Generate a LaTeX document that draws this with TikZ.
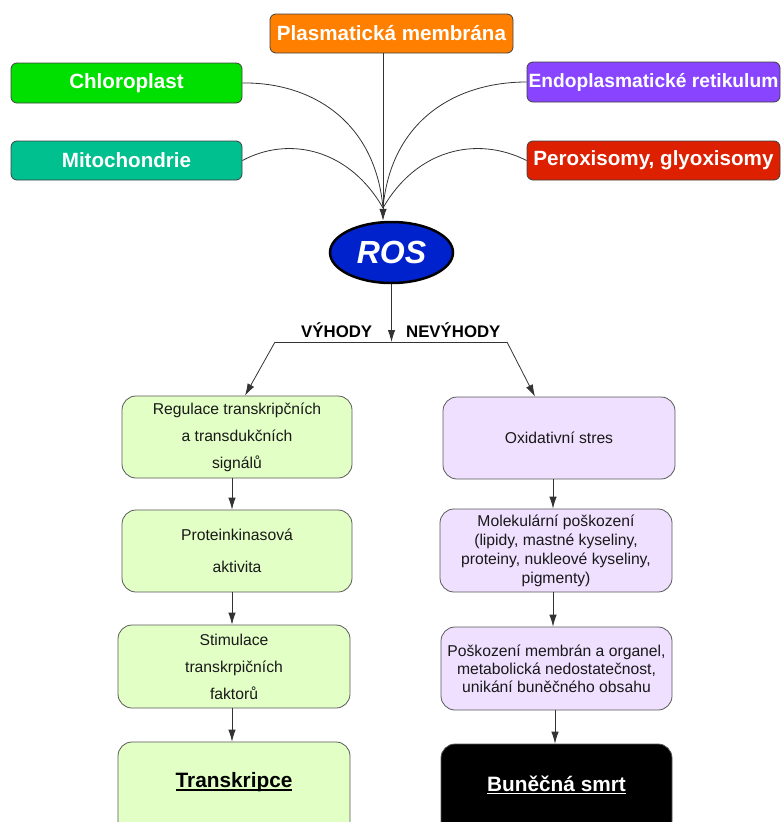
\documentclass[tikz,border=0pt]{standalone}
\usepackage{fontspec}
\setmainfont{Liberation Sans}
\usetikzlibrary{arrows.meta,shapes.geometric}
\newcommand\myul[1]{\setbox0\hbox{#1}\rlap{\raisebox{-3.2pt}{\rule{\wd0}{1.6pt}}}\box0}
\definecolor{cPlasma}{HTML}{FF8000}
\definecolor{cChloro}{HTML}{00E000}
\definecolor{cMito}{HTML}{00C090}
\definecolor{cER}{HTML}{8844FF}
\definecolor{cPerox}{HTML}{DD2000}
\definecolor{cROS}{HTML}{0022CC}
\definecolor{cGreen}{HTML}{E2FFC6}
\definecolor{cLav}{HTML}{F0E0FF}
\definecolor{cLine}{HTML}{333333}
\begin{document}
\begin{tikzpicture}[x=1pt,y=-1pt,
  topbox/.style={draw=black!75, rounded corners=6pt, line width=0.8pt, text=white,
    font=\bfseries\fontsize{20.6}{24}\selectfont, inner sep=0pt, minimum height=39pt},
  lowbox/.style={draw=black!65, rounded corners=14pt, line width=0.8pt, inner sep=0pt,
    align=center, text=black!90, font=\fontsize{15.7}{27}\selectfont},
  conn/.style={draw=cLine, line width=0.8pt},
  arr/.style={conn, -{Latex[length=12pt,width=7.5pt]}},
  lbl/.style={font=\bfseries\fontsize{16.8}{20}\selectfont, anchor=base, inner sep=0pt},
  bigtxt/.style={font=\bfseries\fontsize{20.8}{24}\selectfont, inner sep=0pt}
]
\useasboundingbox (0,0) rectangle (782,822);

% top boxes
\node[topbox, fill=cPlasma, minimum width=243pt] (plasma) at (391.5,33.5) {Plasmatická membrána};
\node[topbox, fill=cChloro, minimum width=231pt, minimum height=40pt] (chloro) at (126.5,83) {Chloroplast};
\node[topbox, fill=cMito, minimum width=231pt] (mito) at (126.5,160.5) {Mitochondrie};
\node[topbox, fill=cER, minimum width=253pt, minimum height=40pt,
  font=\bfseries\fontsize{19.2}{22}\selectfont] (er) at (653.5,82) {Endoplasmatické retikulum};
\node[topbox, fill=cPerox, minimum width=253pt] (perox) at (653.5,160.5) {Peroxisomy, glyoxisomy};

% ROS
\node[ellipse, draw=black, line width=2.5pt, fill=cROS, minimum width=123pt, minimum height=61pt,
  inner sep=0pt, text=white, font=\bfseries\itshape\fontsize{32}{36}\selectfont] (ros) at (391.5,252.5) {ROS};

% converging curves
\coordinate (conv) at (383,208);
\draw[conn] (chloro.east) .. controls (310,82) and (375,120) .. (conv);
\draw[conn] (mito.east) .. controls (290,135) and (350,150) .. (conv);
\draw[conn] (er.west) .. controls (456,82) and (391,120) .. (conv);
\draw[conn] (perox.west) .. controls (476,135) and (416,150) .. (conv);
\draw[arr] ([xshift=-8.5pt]plasma.south) -- ([xshift=-8.5pt]ros.north);

% split
\coordinate (split) at (391.5,342);
\coordinate (lk) at (275,342);
\coordinate (rk) at (507,342);
\draw[arr] (ros.south) -- (split);
\draw[conn] (lk) -- (rk);
\node[lbl] (vyh) at (336.7,337) {VÝHODY};
\node[lbl] (nevyh) at (453.3,337) {NEVÝHODY};

% left column
\node[lowbox, fill=cGreen, minimum width=230pt, minimum height=82pt] (L1) at (237,437)
  {Regulace transkripčních\\a transdukčních\\signálů};
\node[lowbox, fill=cGreen, minimum width=230pt, minimum height=82pt,
  font=\fontsize{15.7}{32}\selectfont] (L2) at (237,551) {Proteinkinasová\\aktivita};
\node[lowbox, fill=cGreen, minimum width=232pt, minimum height=83pt] (L3) at (234,666.5)
  {Stimulace\\transkrpičních\\faktorů};
\node[lowbox, fill=cGreen, minimum width=232pt, minimum height=93pt] (L4) at (234,788.5) {};
\node[bigtxt, text=black] (L4t) at (234,782) {\myul{Transkripce}};

% right column
\node[lowbox, fill=cLav, minimum width=232pt, minimum height=82pt] (R1) at (559,438) {Oxidativní stres};
\node[lowbox, fill=cLav, minimum width=232pt, minimum height=83pt,
  font=\fontsize{15.7}{19}\selectfont] (R2) at (556,550.5)
  {Molekulární poškození\\(lipidy, mastné kyseliny,\\proteiny, nukleové kyseliny,\\pigmenty)};
\node[lowbox, fill=cLav, minimum width=231pt, minimum height=83pt,
  font=\fontsize{15.7}{18}\selectfont] (R3) at (556.5,668.5)
  {Poškození membrán a organel,\\metabolická nedostatečnost,\\unikání buněčného obsahu};
\node[lowbox, fill=black, minimum width=231pt, minimum height=91pt] (R4) at (556.5,789.5) {};
\node[bigtxt, text=white] (R4t) at (556.5,785) {\myul{Buněčná smrt}};

% arrows
\draw[arr] (lk) -- ([xshift=8pt]L1.north);
\draw[arr] (rk) -- ([xshift=-24pt]R1.north);
\draw[arr] ([xshift=-5pt]L1.south) -- ([xshift=-5pt]L2.north);
\draw[arr] ([xshift=-5pt]L2.south) -- ([xshift=-2pt]L3.north);
\draw[arr] ([xshift=-2pt]L3.south) -- ([xshift=-2pt]L4.north);
\draw[arr] ([xshift=-6pt]R1.south) -- ([xshift=-3pt]R2.north);
\draw[arr] ([xshift=-3pt]R2.south) -- ([xshift=-3.5pt]R3.north);
\draw[arr] ([xshift=-1.5pt]R3.south) -- ([xshift=-1.5pt]R4.north);
\end{tikzpicture}
\end{document}
